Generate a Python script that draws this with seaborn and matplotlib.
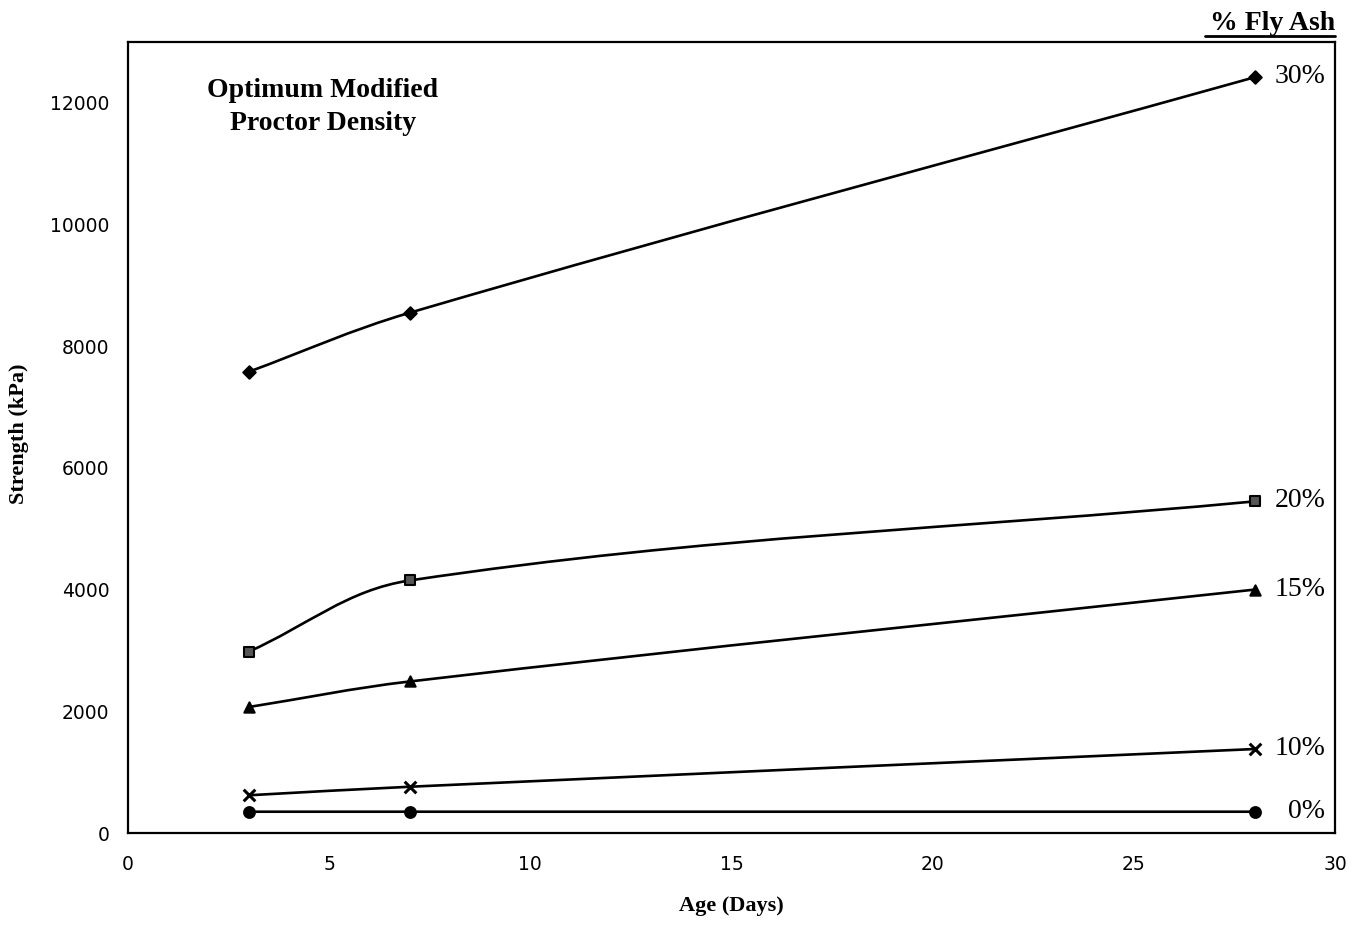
import numpy as np
import pandas as pd
import matplotlib
matplotlib.use("Agg")
import matplotlib.pyplot as plt
from matplotlib.path import Path
from matplotlib.patches import PathPatch
import seaborn as sns

# ---- data ----
ages = [3, 7, 28]
series_labels = ["30%", "20%", "15%", "10%", "0%"]
s30 = [7580, 8550, 12420]
s20 = [2980, 4150, 5450]
s15 = [2070, 2490, 4000]
s10 = [620, 760, 1380]
s0 = [350, 350, 350]
x_ticks = [0, 5, 10, 15, 20, 25, 30]
y_ticks = [0, 2000, 4000, 6000, 8000, 10000, 12000]

all_series = [s30, s20, s15, s10, s0]
markers = ["D", "s", "^", "x", "o"]
msizes = [40, 55, 55, 70, 60]

rows = []
for lab, vals in zip(series_labels, all_series):
    for a, v in zip(ages, vals):
        rows.append({"Age": a, "Strength": v, "Ash": lab})
df = pd.DataFrame(rows)

sns.set_style("white")
plt.rcParams["font.family"] = ["DejaVu Sans"]
plt.rcParams["text.color"] = "black"

W, H = 13.66, 9.30
fig = plt.figure(figsize=(W, H), dpi=100)
L, R, B, T = 128 / 1366, 1335 / 1366, (930 - 833) / 930, (930 - 42) / 930
ax = fig.add_axes([L, B, R - L, T - B])
XMAX, YMAX = 30, 13000
ax.set_xlim(0, XMAX)
ax.set_ylim(0, YMAX)

# pixel scales for visually-correct smoothing
sx = (R - L) * W * 100 / XMAX
sy = (T - B) * H * 100 / YMAX


def smooth_path(xs, ys, k=0.36):
    P = np.column_stack([np.array(xs, float) * sx, np.array(ys, float) * sy])
    n = len(P)
    tangents = []
    for i in range(n):
        if i == 0:
            d = P[1] - P[0]
        elif i == n - 1:
            d = P[-1] - P[-2]
        else:
            d = P[i + 1] - P[i - 1]
        tangents.append(d / np.linalg.norm(d))
    verts = [P[0]]
    codes = [Path.MOVETO]
    for i in range(n - 1):
        seg = np.linalg.norm(P[i + 1] - P[i])
        c1 = P[i] + tangents[i] * seg * k
        c2 = P[i + 1] - tangents[i + 1] * seg * k
        verts += [c1, c2, P[i + 1]]
        codes += [Path.CURVE4] * 3
    V = np.array(verts)
    V[:, 0] /= sx
    V[:, 1] /= sy
    return Path(V, codes)


for lab, vals in zip(series_labels, all_series):
    ax.add_patch(PathPatch(smooth_path(ages, vals), fill=False,
                           edgecolor="black", lw=1.9, zorder=2))

for lab, m, ms in zip(series_labels, markers, msizes):
    sub = df[df["Ash"] == lab]
    if m == "x":
        sns.scatterplot(data=sub, x="Age", y="Strength", marker="x", s=ms,
                        color="black", linewidth=2.2, ax=ax, zorder=3, legend=False)
    else:
        sns.scatterplot(data=sub, x="Age", y="Strength", marker=m, s=ms,
                        color="black" if lab != "20%" else "#555555",
                        edgecolor="black", linewidth=1.5, ax=ax, zorder=3, legend=False)

# series end labels
serif = ["Liberation Serif", "DejaVu Serif"]
for lab, vals in zip(series_labels, all_series):
    ax.text(29.76, vals[-1] + 10, lab, fontsize=20, family=serif,
            va="center", ha="right", color="black")

ax.set_xticks(x_ticks)
ax.set_yticks(y_ticks)
ax.set_xticklabels([str(t) for t in x_ticks])
ax.set_yticklabels([str(t) for t in y_ticks])
ax.tick_params(axis="both", direction="inout", length=7, width=1.2,
               labelsize=13.5, colors="black", pad=10)
ax.tick_params(axis="x", pad=12)
for sp in ax.spines.values():
    sp.set_visible(True)
    sp.set_color("black")
    sp.set_linewidth(1.6)

ax.set_xlabel("Age (Days)", fontsize=16, fontweight="bold", family=serif,
              labelpad=16, color="black")
ax.set_ylabel("Strength (kPa)", fontsize=16, fontweight="bold", family=serif,
              color="black")
ax.yaxis.set_label_coords(-0.082, 0.505)

ax.text(0.0655, 0.955, "Optimum Modified\nProctor Density", transform=ax.transAxes,
        fontsize=20, fontweight="bold", family=serif, ha="left", va="top",
        multialignment="center", linespacing=1.45, color="black")

fig.text(1335 / 1366, 1 - 30 / 930, "% Fly Ash", fontsize=20, fontweight="bold",
         family=serif, ha="right", va="baseline", color="black")
fig.add_artist(plt.Line2D([1205 / 1366, 1335 / 1366], [1 - 36 / 930, 1 - 36 / 930],
                          color="black", lw=2, transform=fig.transFigure))

fig.savefig("out.png", dpi=100, facecolor="white")
